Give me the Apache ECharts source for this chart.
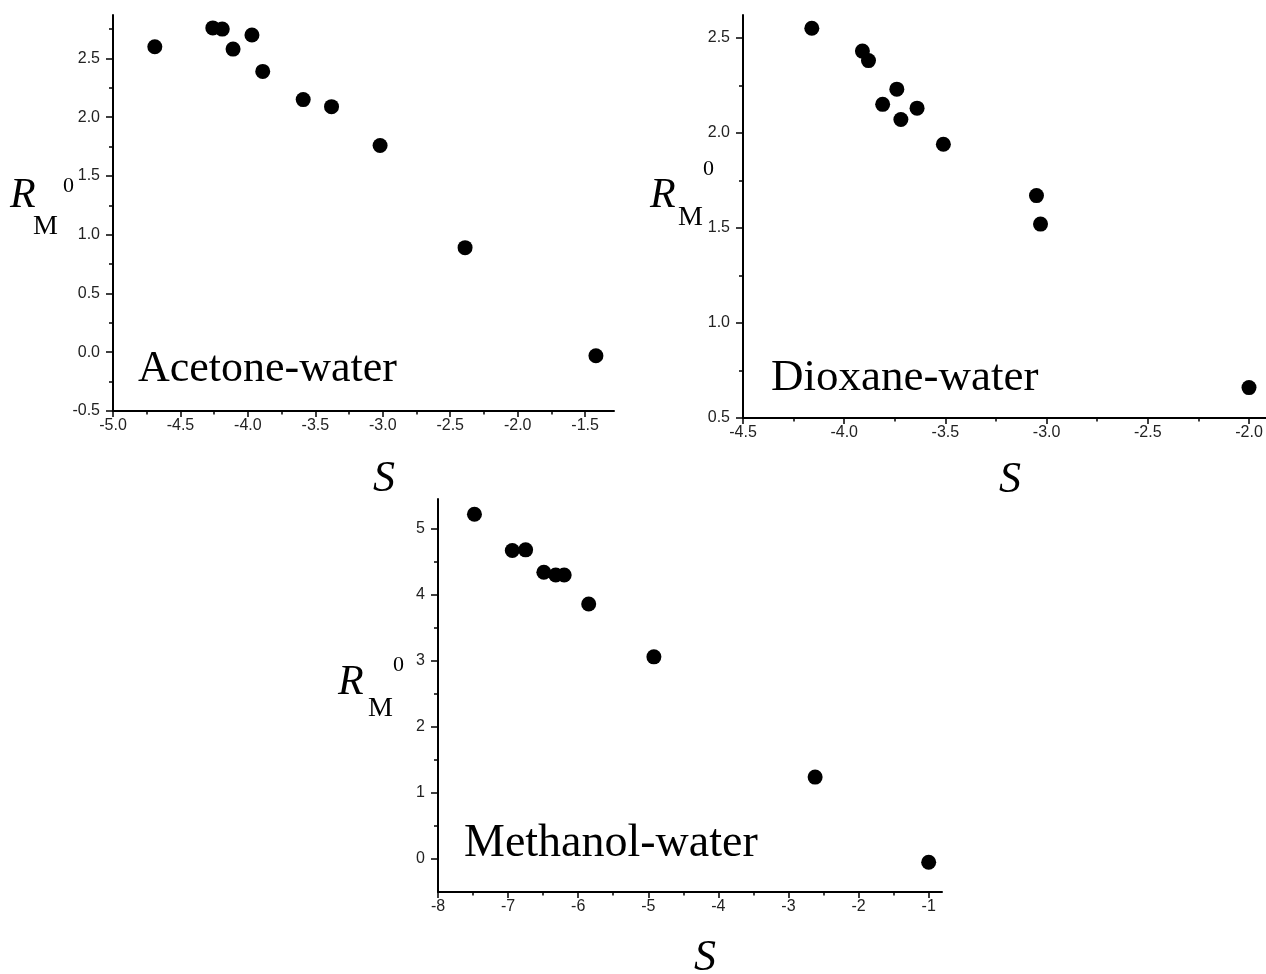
<!DOCTYPE html>
<html>
<head>
<meta charset="utf-8">
<script src="https://cdn.jsdelivr.net/npm/echarts@6/dist/echarts.min.js"></script>
<style>
  html, body { margin: 0; padding: 0; background: #fff; }
  #chart { width: 1266px; height: 974px; }
</style>
</head>
<body>
<div id="chart"></div>
<script>
// acetone-water
const acetoneS = [-4.69, -4.26, -4.19, -4.11, -3.97, -3.89, -3.59, -3.38, -3.02, -2.39, -1.42];
const acetoneR = [2.60, 2.76, 2.75, 2.58, 2.70, 2.39, 2.15, 2.09, 1.76, 0.89, -0.03];
const acetoneXTicks = [-5.0, -4.5, -4.0, -3.5, -3.0, -2.5, -2.0, -1.5];
const acetoneYTicks = [-0.5, 0.0, 0.5, 1.0, 1.5, 2.0, 2.5];

// dioxane-water
const dioxaneS = [-4.16, -3.91, -3.88, -3.74, -3.81, -3.72, -3.64, -3.51, -3.05, -3.03, -2.00];
const dioxaneR = [2.55, 2.43, 2.38, 2.23, 2.15, 2.07, 2.13, 1.94, 1.67, 1.52, 0.66];
const dioxaneXTicks = [-4.5, -4.0, -3.5, -3.0, -2.5, -2.0];
const dioxaneYTicks = [0.5, 1.0, 1.5, 2.0, 2.5];

// methanol-water
const methanolS = [-7.48, -6.94, -6.75, -6.49, -6.32, -6.20, -5.85, -4.92, -2.62, -1.00];
const methanolR = [5.22, 4.67, 4.68, 4.34, 4.30, 4.30, 3.86, 3.06, 1.24, -0.05];
const methanolXTicks = [-8, -7, -6, -5, -4, -3, -2, -1];
const methanolYTicks = [0, 1, 2, 3, 4, 5];

const panels = [
  { s: acetoneS, r: acetoneR, xt: acetoneXTicks, yt: acetoneYTicks, digits: 1,
    rect: { left: 113, top: 15, width: 501, height: 396 }, xMin: -5.0, xMax: -1.286, yMin: -0.5, yMax: 2.87 },
  { s: dioxaneS, r: dioxaneR, xt: dioxaneXTicks, yt: dioxaneYTicks, digits: 1,
    rect: { left: 743, top: 15, width: 523, height: 403 }, xMin: -4.5, xMax: -1.916, yMin: 0.5, yMax: 2.62 },
  { s: methanolS, r: methanolR, xt: methanolXTicks, yt: methanolYTicks, digits: 0,
    rect: { left: 438, top: 499, width: 504, height: 393 }, xMin: -8, xMax: -0.81, yMin: -0.5, yMax: 5.45 }
];

function minors(ticks, lo, hi) {
  const step = ticks[1] - ticks[0];
  const out = [];
  if (ticks[0] - step / 2 > lo) out.push(ticks[0] - step / 2);
  ticks.forEach(t => { if (t + step / 2 < hi) out.push(t + step / 2); });
  return out;
}

const labelStyle = { fontFamily: 'Liberation Sans', fontSize: 16, color: '#222' };
const grid = [], xAxis = [], yAxis = [], series = [];

panels.forEach((p, i) => {
  grid.push(Object.assign({}, p.rect));
  grid.push(Object.assign({}, p.rect));
  const fmt = v => v.toFixed(p.digits);
  // main axes with labels and major ticks
  xAxis.push({
    type: 'value', gridIndex: 2 * i, min: p.xMin, max: p.xMax,
    axisLine: { show: true, onZero: false, lineStyle: { color: '#000', width: 2 } },
    axisTick: { show: true, customValues: p.xt, length: 6, lineStyle: { color: '#000', width: 1.5 } },
    axisLabel: Object.assign({ customValues: p.xt, formatter: fmt, margin: 7 }, labelStyle),
    splitLine: { show: false }
  });
  yAxis.push({
    type: 'value', gridIndex: 2 * i, min: p.yMin, max: p.yMax,
    axisLine: { show: true, onZero: false, lineStyle: { color: '#000', width: 2 } },
    axisTick: { show: true, customValues: p.yt, length: 7, lineStyle: { color: '#000', width: 1.5 } },
    axisLabel: Object.assign({ customValues: p.yt, formatter: fmt, margin: 13 }, labelStyle),
    splitLine: { show: false }
  });
  // minor ticks
  xAxis.push({
    type: 'value', gridIndex: 2 * i + 1, min: p.xMin, max: p.xMax,
    axisLine: { show: false, onZero: false },
    axisTick: { show: true, customValues: minors(p.xt, p.xMin, p.xMax), length: 3.5, lineStyle: { color: '#000', width: 1.5 } },
    axisLabel: { show: false }, splitLine: { show: false }
  });
  yAxis.push({
    type: 'value', gridIndex: 2 * i + 1, min: p.yMin, max: p.yMax,
    axisLine: { show: false, onZero: false },
    axisTick: { show: true, customValues: minors(p.yt, p.yMin, p.yMax), length: 4, lineStyle: { color: '#000', width: 1.5 } },
    axisLabel: { show: false }, splitLine: { show: false }
  });
  series.push({
    type: 'scatter', xAxisIndex: 2 * i, yAxisIndex: 2 * i,
    data: p.s.map((v, k) => [v, p.r[k]]),
    symbolSize: 15, itemStyle: { color: '#000', opacity: 1 },
    silent: true
  });
});

function txt(text, x, y, size, italic) {
  return {
    type: 'text', silent: true,
    style: {
      text: text, x: x, y: y, fill: '#000',
      font: (italic ? 'italic ' : '') + size + 'px "Liberation Serif", "Times New Roman", serif',
      verticalAlign: 'middle', align: 'left'
    }
  };
}

const graphic = [
  txt('Acetone-water', 138, 369, 44, false),
  txt('Dioxane-water', 771, 378, 45, false),
  txt('Methanol-water', 464, 844, 46, false),
  txt('S', 373, 479, 44, true),
  txt('S', 999, 480, 44, true),
  txt('S', 694, 958, 44, true),
  txt('R', 10, 196, 42, true), txt('M', 33, 227, 28, false), txt('0', 63, 186, 22, false),
  txt('R', 650, 196, 42, true), txt('M', 678, 218, 28, false), txt('0', 703, 169, 22, false),
  txt('R', 338, 683, 42, true), txt('M', 368, 709, 28, false), txt('0', 393, 665, 22, false)
];

const chart = echarts.init(document.getElementById('chart'));
chart.setOption({
  backgroundColor: '#fff',
  animation: false,
  grid: grid,
  xAxis: xAxis,
  yAxis: yAxis,
  series: series,
  graphic: graphic
});
</script>
</body>
</html>
